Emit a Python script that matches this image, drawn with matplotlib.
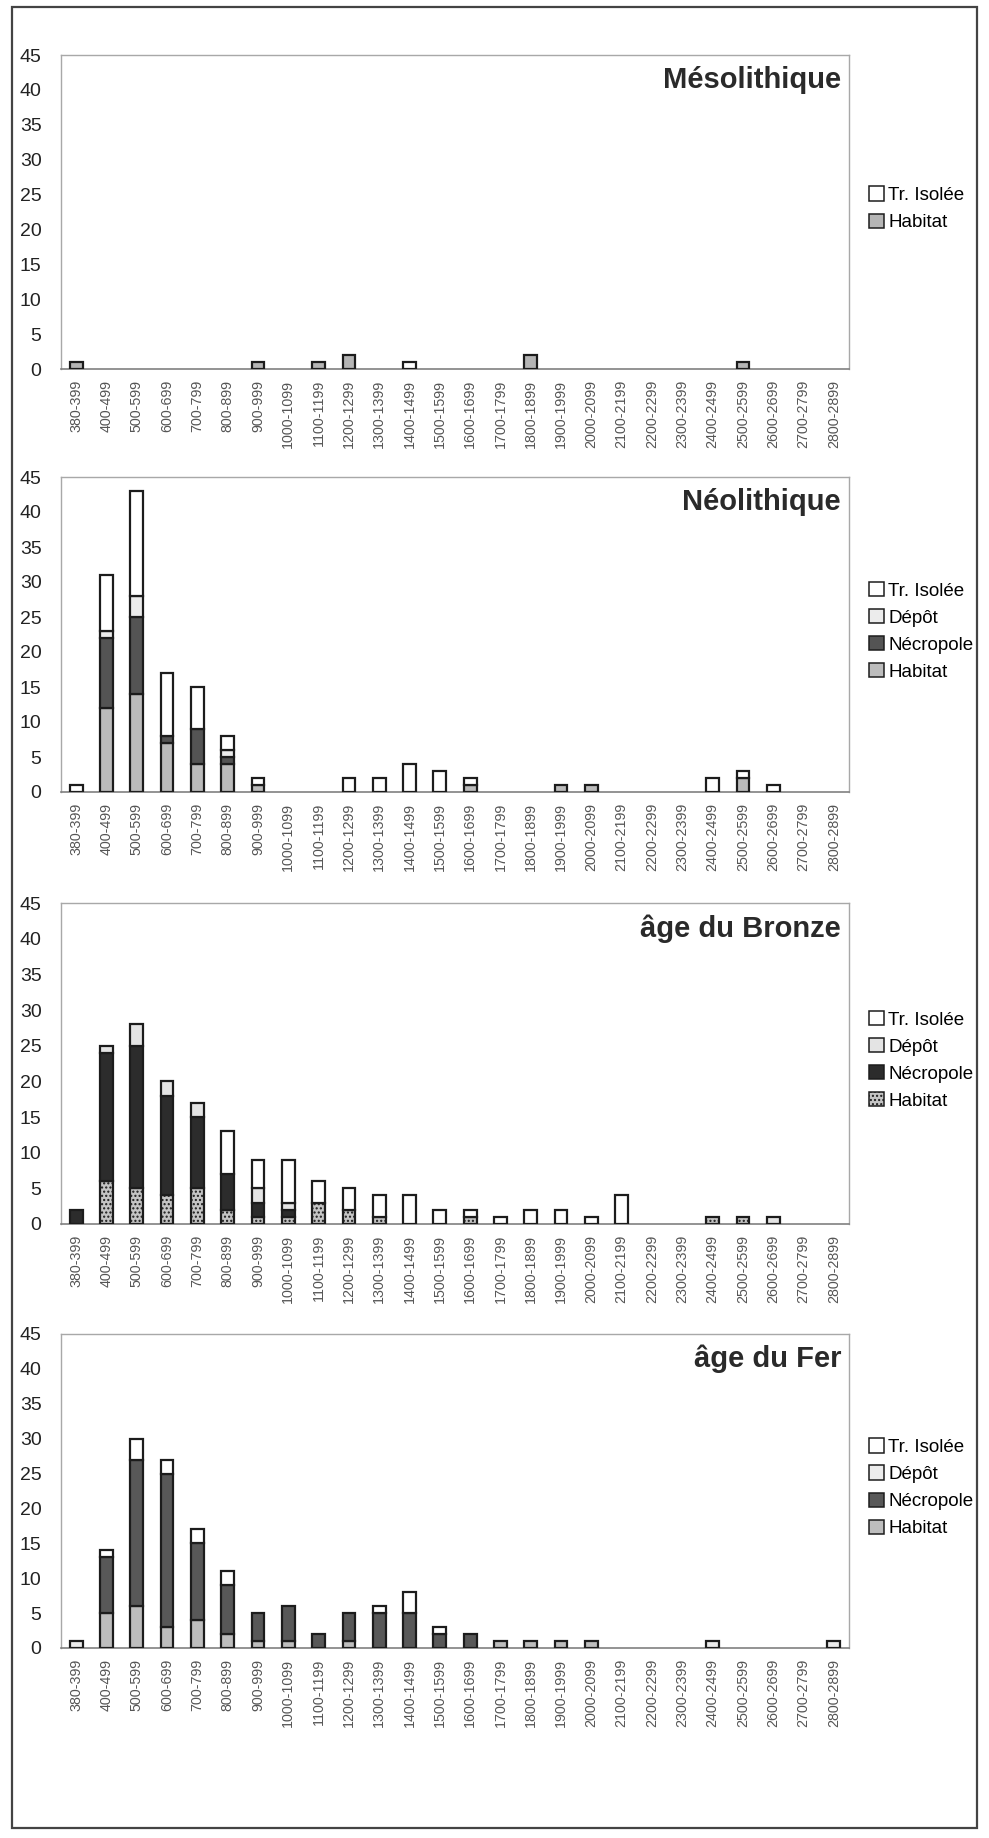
import numpy as np
import matplotlib
matplotlib.use("Agg")
import matplotlib.pyplot as plt
from matplotlib.patches import Patch, Rectangle

plt.rcParams['font.family'] = ['Liberation Sans', 'DejaVu Sans']

categories = ["380-399", "400-499", "500-599", "600-699", "700-799", "800-899",
              "900-999", "1000-1099", "1100-1199", "1200-1299", "1300-1399",
              "1400-1499", "1500-1599", "1600-1699", "1700-1799", "1800-1899",
              "1900-1999", "2000-2099", "2100-2199", "2200-2299", "2300-2399",
              "2400-2499", "2500-2599", "2600-2699", "2700-2799", "2800-2899"]

# Mésolithique
meso_habitat = [1, 0, 0, 0, 0, 0, 1, 0, 1, 2, 0, 0, 0, 0, 0, 2, 0, 0, 0, 0, 0, 0, 1, 0, 0, 0]
meso_isolee  = [0, 0, 0, 0, 0, 0, 0, 0, 0, 0, 0, 1, 0, 0, 0, 0, 0, 0, 0, 0, 0, 0, 0, 0, 0, 0]

# Néolithique
neo_habitat   = [0, 12, 14, 7, 4, 4, 1, 0, 0, 0, 0, 0, 0, 1, 0, 0, 1, 1, 0, 0, 0, 0, 2, 0, 0, 0]
neo_necropole = [0, 10, 11, 1, 5, 1, 0, 0, 0, 0, 0, 0, 0, 0, 0, 0, 0, 0, 0, 0, 0, 0, 0, 0, 0, 0]
neo_depot     = [0, 1, 3, 0, 0, 1, 0, 0, 0, 0, 0, 0, 0, 0, 0, 0, 0, 0, 0, 0, 0, 0, 0, 0, 0, 0]
neo_isolee    = [1, 8, 15, 9, 6, 2, 1, 0, 0, 2, 2, 4, 3, 1, 0, 0, 0, 0, 0, 0, 0, 2, 1, 1, 0, 0]

# âge du Bronze
bronze_habitat   = [0, 6, 5, 4, 5, 2, 1, 1, 3, 2, 1, 0, 0, 1, 0, 0, 0, 0, 0, 0, 0, 1, 1, 0, 0, 0]
bronze_necropole = [2, 18, 20, 14, 10, 5, 2, 1, 0, 0, 0, 0, 0, 0, 0, 0, 0, 0, 0, 0, 0, 0, 0, 0, 0, 0]
bronze_depot     = [0, 1, 3, 2, 2, 0, 2, 1, 0, 0, 0, 0, 0, 0, 0, 0, 0, 0, 0, 0, 0, 0, 0, 1, 0, 0]
bronze_isolee    = [0, 0, 0, 0, 0, 6, 4, 6, 3, 3, 3, 4, 2, 1, 1, 2, 2, 1, 4, 0, 0, 0, 0, 0, 0, 0]

# âge du Fer
fer_habitat   = [0, 5, 6, 3, 4, 2, 1, 1, 0, 1, 0, 0, 0, 0, 1, 1, 1, 1, 0, 0, 0, 0, 0, 0, 0, 0]
fer_necropole = [0, 8, 21, 22, 11, 7, 4, 5, 2, 4, 5, 5, 2, 2, 0, 0, 0, 0, 0, 0, 0, 0, 0, 0, 0, 0]
fer_depot     = [1, 0, 0, 0, 0, 0, 0, 0, 0, 0, 0, 0, 0, 0, 0, 0, 0, 0, 0, 0, 0, 1, 0, 0, 0, 1]
fer_isolee    = [0, 1, 3, 2, 2, 2, 0, 0, 0, 0, 1, 3, 1, 0, 0, 0, 0, 0, 0, 0, 0, 0, 0, 0, 0, 0]

EDGE = '#1c1c1c'
W, H = 989, 1838
fig = plt.figure(figsize=(W / 100, H / 100), dpi=100)

# outer frame
fig.patches.append(Rectangle((12 / W, 1 - 1828 / H), (977 - 12) / W, (1828 - 7) / H,
                             transform=fig.transFigure, fill=False,
                             edgecolor='#444444', linewidth=1.6))

panels = [
    dict(title="Mésolithique", top=55, bottom=369,
         series=[("Habitat", meso_habitat, dict(facecolor='#b5b5b5')),
                 ("Tr. Isolée", meso_isolee, dict(facecolor='white'))]),
    dict(title="Néolithique", top=477, bottom=792,
         series=[("Habitat", neo_habitat, dict(facecolor='#bcbcbc')),
                 ("Nécropole", neo_necropole, dict(facecolor='#545454')),
                 ("Dépôt", neo_depot, dict(facecolor='#ececec')),
                 ("Tr. Isolée", neo_isolee, dict(facecolor='white'))]),
    dict(title="âge du Bronze", top=903, bottom=1224,
         series=[("Habitat", bronze_habitat, dict(facecolor='#c4c4c4', hatch='....')),
                 ("Nécropole", bronze_necropole, dict(facecolor='#2c2c2c')),
                 ("Dépôt", bronze_depot, dict(facecolor='#e4e4e4')),
                 ("Tr. Isolée", bronze_isolee, dict(facecolor='white'))]),
    dict(title="âge du Fer", top=1334, bottom=1648,
         series=[("Habitat", fer_habitat, dict(facecolor='#bdbdbd')),
                 ("Nécropole", fer_necropole, dict(facecolor='#585858')),
                 ("Dépôt", fer_depot, dict(facecolor='#ececec')),
                 ("Tr. Isolée", fer_isolee, dict(facecolor='white'))]),
]

left_px, right_px = 61, 849
x = np.arange(len(categories))

for p in panels:
    ax = fig.add_axes([left_px / W, 1 - p['bottom'] / H,
                       (right_px - left_px) / W, (p['bottom'] - p['top']) / H])
    bottom = np.zeros(len(categories))
    handles = []
    for name, vals, style in p['series']:
        v = np.array(vals, dtype=float)
        m = v > 0
        ax.bar(x[m], v[m], bottom=bottom[m], width=0.42, edgecolor=EDGE,
               linewidth=1.6, zorder=3, **style)
        bottom += v
        handles.append(Patch(edgecolor=EDGE, linewidth=1.1, label=name, **style))
    handles = handles[::-1]
    ax.set_xlim(-0.5, len(categories) - 0.5)
    ax.set_ylim(0, 45)
    ax.set_yticks(np.arange(0, 46, 5))
    ax.set_xticks(x)
    ax.set_xticklabels(categories, rotation=90, fontsize=10.3, color='#555555')
    ax.tick_params(axis='y', length=0, pad=14, labelsize=14, labelcolor='#222222')
    ax.tick_params(axis='x', length=0, pad=8)
    for s in ['top', 'right', 'left']:
        ax.spines[s].set_color('#a8a8a8')
        ax.spines[s].set_linewidth(1.0)
    ax.spines['bottom'].set_color('#808080')
    ax.spines['bottom'].set_linewidth(1.2)
    ax.text(0.99, 0.965, p['title'], transform=ax.transAxes, ha='right', va='top',
            fontsize=21, fontweight='bold', color='#2a2a2a')
    ax.legend(handles=handles, loc='center left', bbox_to_anchor=(1.025, 0.51),
              frameon=False, fontsize=13.5, handlelength=0.8, handleheight=0.8,
              handletextpad=0.25, labelspacing=0.5, borderpad=0, borderaxespad=0)

fig.savefig("out.png", dpi=100)
